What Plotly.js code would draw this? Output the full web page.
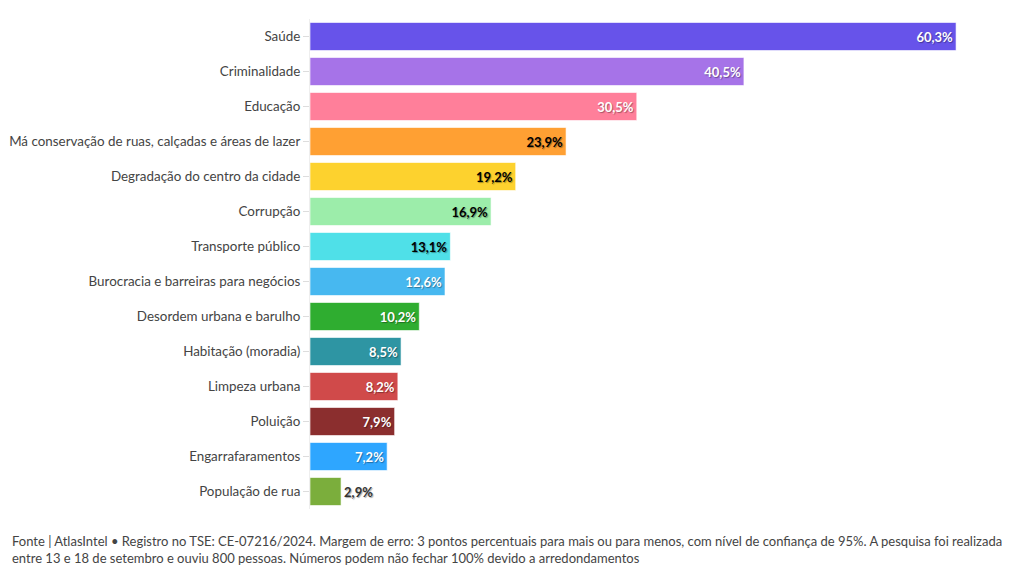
<!DOCTYPE html>
<html><head><meta charset="utf-8">
<script src="https://cdn.plot.ly/plotly-3.0.1.min.js"></script>
<style>body{margin:0;padding:0;background:#fff;}#chart{width:1020px;height:577px;}</style>
</head><body><div id="chart"></div>
<script>
const categories = ["Saúde","Criminalidade","Educação","Má conservação de ruas, calçadas e áreas de lazer","Degradação do centro da cidade","Corrupção","Transporte público","Burocracia e barreiras para negócios","Desordem urbana e barulho","Habitação (moradia)","Limpeza urbana","Poluição","Engarrafaramentos","População de rua"];
const values = [60.3,40.5,30.5,23.9,19.2,16.9,13.1,12.6,10.2,8.5,8.2,7.9,7.2,2.9];
const labels = ["60,3%","40,5%","30,5%","23,9%","19,2%","16,9%","13,1%","12,6%","10,2%","8,5%","8,2%","7,9%","7,2%","2,9%"];
const colors = ["#6753EA","#A673E8","#FF7F9A","#FFA033","#FDD22E","#9CEDAA","#4FE0E8","#47B8F0","#2FAD30","#2E95A3","#D04A4A","#8B2E2E","#2EA6FF","#7BAE3C"];
const textColors = ["#fff","#fff","#fff","#000","#000","#000","#000","#fff","#fff","#fff","#fff","#fff","#fff","#333"];
const positions = ["inside","inside","inside","inside","inside","inside","inside","inside","inside","inside","inside","inside","inside","outside"];
const footer = "Fonte | AtlasIntel • Registro no TSE: CE-07216/2024. Margem de erro: 3 pontos percentuais para mais ou para menos, com nível de confiança de 95%. A pesquisa foi realizada<br>entre 13 e 18 de setembro e ouviu 800 pessoas. Números podem não fechar 100% devido a arredondamentos";
const font = "Lato, 'Noto Sans', sans-serif";
Plotly.newPlot('chart', [{
  type: 'bar', orientation: 'h',
  x: values, y: categories,
  text: labels, textposition: positions,
  insidetextanchor: 'end',
  textfont: {family: font, size: 13, color: textColors, weight: 700, shadow: "1px 1px 1px rgba(0,0,0,0.35)"},
  constraintext: 'none',
  cliponaxis: false,
  marker: {color: colors, line: {color: 'rgba(255,255,255,0.6)', width: 1}},
  hoverinfo: 'x+y'
}], {
  width: 1020, height: 577,
  margin: {l: 310, r: 35, t: 19, b: 68},
  bargap: 0.2,
  paper_bgcolor: '#fff', plot_bgcolor: '#fff',
  font: {family: font, size: 13, color: '#444'},
  showlegend: false,
  xaxis: {range: [0, 63], visible: false, fixedrange: true},
  yaxis: {autorange: 'reversed', ticks: 'outside', ticklen: 6, tickcolor: '#ddd', showline: true, linecolor: '#eee', linewidth: 1, tickfont: {family: font, size: 13.4, color: '#444'}, fixedrange: true},
  annotations: [{text: footer, xref: 'paper', yref: 'paper', x: -300/675, y: -0.045, xanchor: 'left', yanchor: 'top', align: 'left', showarrow: false, font: {family: font, size: 13, color: '#444'}}]
}, {displayModeBar: false});
</script></body></html>
